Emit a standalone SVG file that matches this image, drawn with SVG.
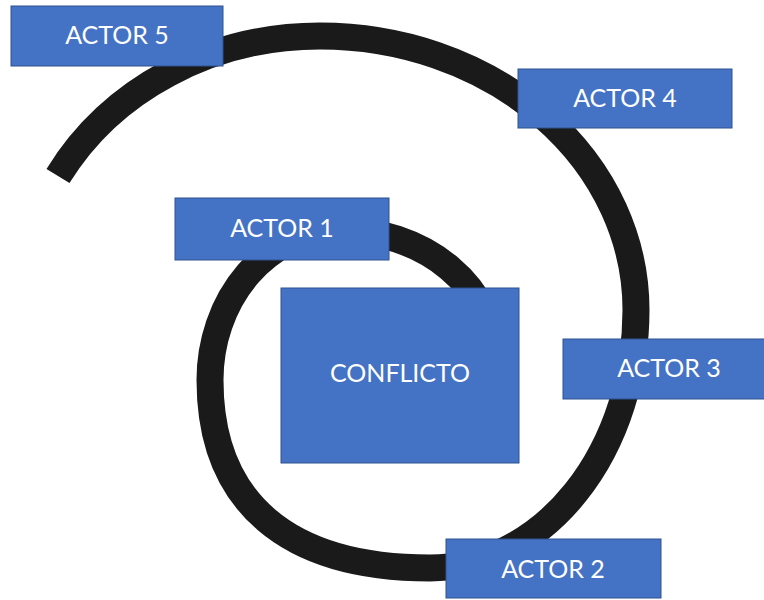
<svg xmlns="http://www.w3.org/2000/svg" width="764" height="600" viewBox="0 0 764 600">
  <style>
    .box { fill: #4472C4; stroke: #2F528F; stroke-width: 1; }
    .lbl { font-family: Lato, "Liberation Sans", sans-serif; font-size: 25px; fill: #FFFFFF; text-anchor: middle; }
    .spiral { fill: none; stroke: #1A1A1A; stroke-width: 27; stroke-linecap: butt; }
  </style>
  <rect x="0" y="0" width="764" height="600" fill="#FFFFFF"/>
  <g id="connectors">
    <path class="spiral" d="M 495 360 A 155 130 0 0 0 340 230 A 130 150 0 0 0 210 380 C 210 502 287 568 430 568 A 206 258 0 0 0 636 310 A 316 274 0 0 0 320 36 A 300 274 0 0 0 58 176"/>
  </g>
  <g id="actor5">
    <rect class="box" x="11" y="6" width="212" height="60"/>
    <text class="lbl" x="117" y="44">ACTOR 5</text>
  </g>
  <g id="actor4">
    <rect class="box" x="518" y="69" width="214" height="59"/>
    <text class="lbl" x="625" y="107">ACTOR 4</text>
  </g>
  <g id="actor1">
    <rect class="box" x="175" y="198" width="214" height="62"/>
    <text class="lbl" x="282" y="237">ACTOR 1</text>
  </g>
  <g id="conflicto">
    <rect class="box" x="281" y="288" width="238" height="175"/>
    <text class="lbl" x="400" y="382">CONFLICTO</text>
  </g>
  <g id="actor3">
    <rect class="box" x="563" y="339" width="213" height="60"/>
    <text class="lbl" x="669" y="377">ACTOR 3</text>
  </g>
  <g id="actor2">
    <rect class="box" x="446" y="539" width="215" height="59"/>
    <text class="lbl" x="553" y="578">ACTOR 2</text>
  </g>
</svg>
